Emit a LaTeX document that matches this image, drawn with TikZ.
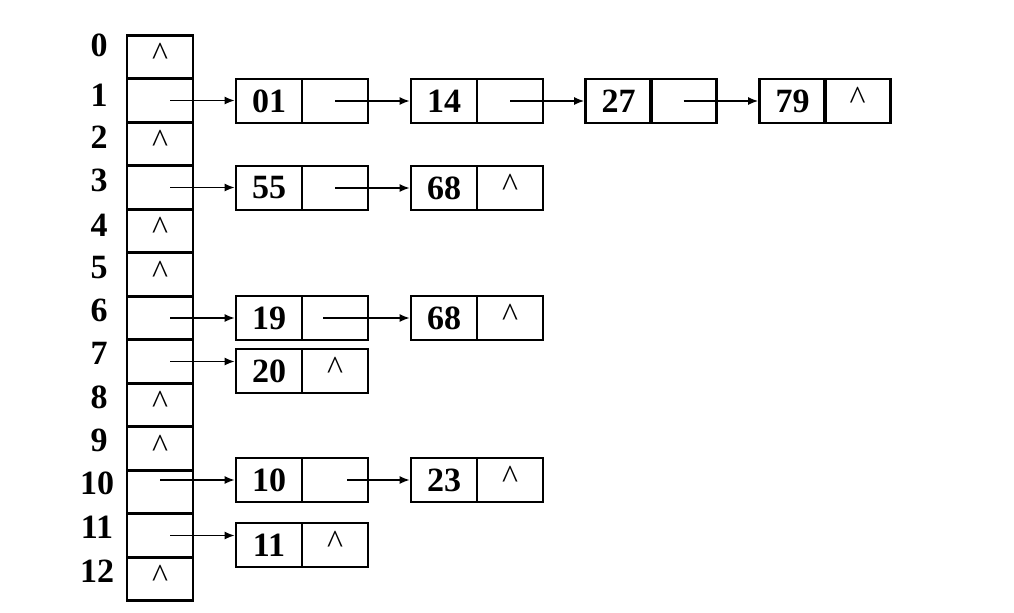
\documentclass[tikz,border=0pt]{standalone}
\usepackage{fontspec}
\setmainfont{Liberation Serif}
\usetikzlibrary{arrows.meta}

\newcommand{\nil}{\raisebox{2.5pt}{\textasciicircum}}

\tikzset{
  cell/.style={draw, line width=1.4pt, minimum width=33pt, minimum height=21.75pt, inner sep=0pt, font=\fontsize{17}{20}\selectfont},
  key/.style={draw, line width=1.4pt, minimum width=33pt, minimum height=22pt, inner sep=0pt, font=\fontsize{17}{20}\selectfont\bfseries},
  link/.style={draw, line width=1.4pt, minimum width=33pt, minimum height=22pt, inner sep=0pt, font=\fontsize{17}{20}\selectfont},
  idx/.style={inner sep=0pt, font=\fontsize{17}{20}\selectfont\bfseries},
  ptr/.style={-{Latex[length=5pt,width=4pt]}, line width=0.7pt}
}

\begin{document}
\begin{tikzpicture}[x=0.5pt, y=-0.5pt]
    \useasboundingbox (0,0) rectangle (1014,612);
    % bucket table
    \node[cell] (t0) at (160,57) {\nil};
    \node[cell] (t1) at (160,100.5) {};
    \node[cell] (t2) at (160,144) {\nil};
    \node[cell] (t3) at (160,187.5) {};
    \node[cell] (t4) at (160,231) {\nil};
    \node[cell] (t5) at (160,274.5) {\nil};
    \node[cell] (t6) at (160,318) {};
    \node[cell] (t7) at (160,361.5) {};
    \node[cell] (t8) at (160,405) {\nil};
    \node[cell] (t9) at (160,448.5) {\nil};
    \node[cell] (t10) at (160,492) {};
    \node[cell] (t11) at (160,535.5) {};
    \node[cell] (t12) at (160,579) {\nil};
    % indices
    \node[idx] (i0) at (99,45) {0};
    \node[idx] (i1) at (99,95) {1};
    \node[idx] (i2) at (99,137) {2};
    \node[idx] (i3) at (99,180) {3};
    \node[idx] (i4) at (99,225) {4};
    \node[idx] (i5) at (99,268) {5};
    \node[idx] (i6) at (99,310) {6};
    \node[idx] (i7) at (99,353) {7};
    \node[idx] (i8) at (99,397) {8};
    \node[idx] (i9) at (99,440) {9};
    \node[idx] (i10) at (97,483) {10};
    \node[idx] (i11) at (97,527) {11};
    \node[idx] (i12) at (97,571) {12};
    % chain 1
    \node[key] (k1a) at (269,101) {01};
    \node[link] (p1a) at (335,101) {};
    \node[key] (k1b) at (444,101) {14};
    \node[link] (p1b) at (510,101) {};
    \node[key] (k1c) at (618.5,101) {27};
    \node[link] (p1c) at (683.5,101) {};
    \node[key] (k1d) at (792.5,101) {79};
    \node[link] (p1d) at (857.5,101) {\nil};
    % chain 3
    \node[key] (k3a) at (269,188) {55};
    \node[link] (p3a) at (335,188) {};
    \node[key] (k3b) at (444,188) {68};
    \node[link] (p3b) at (510,188) {\nil};
    % chain 6
    \node[key] (k6a) at (269,318) {19};
    \node[link] (p6a) at (335,318) {};
    \node[key] (k6b) at (444,318) {68};
    \node[link] (p6b) at (510,318) {\nil};
    % chain 7
    \node[key] (k7a) at (269,371) {20};
    \node[link] (p7a) at (335,371) {\nil};
    % chain 10
    \node[key] (k10a) at (269,480) {10};
    \node[link] (p10a) at (335,480) {};
    \node[key] (k10b) at (444,480) {23};
    \node[link] (p10b) at (510,480) {\nil};
    % chain 11
    \node[key] (k11a) at (269,545) {11};
    \node[link] (p11a) at (335,545) {\nil};
    % pointers
    \draw[ptr] ([xshift=5pt]t1.center) -- (t1.center -| k1a.west);
    \draw[ptr] (p1a.center) -- (k1b.west);
    \draw[ptr] (p1b.center) -- (k1c.west);
    \draw[ptr] (p1c.center) -- (k1d.west);
    \draw[ptr] ([xshift=5pt]t3.center) -- (t3.center -| k3a.west);
    \draw[ptr] (p3a.center) -- (k3b.west);
    \draw[ptr] ([xshift=5pt]t6.center) -- (t6.center -| k6a.west);
    \draw[ptr] ([xshift=-6pt]p6a.center) -- (k6b.west);
    \draw[ptr] ([xshift=5pt]t7.center) -- (t7.center -| k7a.west);
    \draw[ptr] (k10a.west -| t10.center) -- (k10a.west);
    \draw[ptr] ([xshift=6pt]p10a.center) -- (k10b.west);
    \draw[ptr] ([xshift=5pt]t11.center) -- (t11.center -| k11a.west);
  \end{tikzpicture}
\end{document}
